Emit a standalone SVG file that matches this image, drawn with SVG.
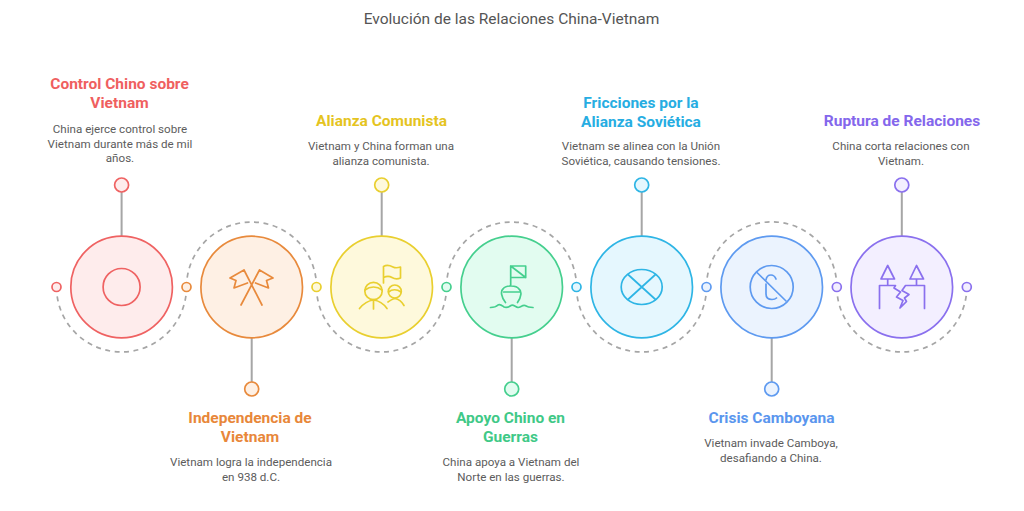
<svg xmlns="http://www.w3.org/2000/svg" width="1024" height="511" viewBox="0 0 1024 511">
<style>
text{font-family:Roboto,"Liberation Sans",sans-serif}
.t{font-size:15.500px;fill:#555;text-anchor:middle}
.h{font-size:15.500px;font-weight:700;text-anchor:middle}
.d{font-size:11.600px;fill:#5c5c5c;text-anchor:middle}
.c{fill:none;stroke:#a6a6a6;stroke-width:2}
.dash{stroke-width:1.700;stroke-dasharray:5 4.500;stroke-linecap:butt}
.i{fill:none;stroke-width:1.700;stroke-linecap:round;stroke-linejoin:round}
.b{stroke-width:1.700}
.s{stroke-width:1.700}
</style>
<rect width="1024" height="511" fill="#fff"/>
<text class="t" x="511.500" y="24">Evolución de las Relaciones China-Vietnam</text>
<g id="connectors">
<path class="c dash" d="M56.500 287A65 65 0 0 0 186.500 287"/>
<path class="c dash" d="M186.500 287A65 65 0 0 1 316.500 287"/>
<path class="c dash" d="M316.500 287A65 65 0 0 0 446.500 287"/>
<path class="c dash" d="M446.500 287A65 65 0 0 1 576.500 287"/>
<path class="c dash" d="M576.500 287A65 65 0 0 0 706.500 287"/>
<path class="c dash" d="M706.500 287A65 65 0 0 1 836.800 287"/>
<path class="c dash" d="M836.800 287A65 65 0 0 0 966.800 287"/>
<path class="c" d="M121.600 192V236M251.700 338V382M381.700 192V236M511.700 338V382M641.700 192V236M771.700 338V382M901.800 192V236"/>
</g>
<g id="n1" stroke="#ef6262" fill="#feecec">
<circle class="b" cx="121.600" cy="287" r="50.800"/><circle class="s" cx="121.600" cy="185" r="7"/><circle class="s" cx="56.500" cy="287" r="4.500"/>
<circle class="i" cx="121.600" cy="287" r="18.500"/>
<text class="h" x="119.500" y="89" fill="#ef5f5f" stroke="none">Control Chino sobre</text><text class="h" x="119.500" y="108" fill="#ef5f5f" stroke="none">Vietnam</text>
<text class="d" x="120" y="133" stroke="none">China ejerce control sobre</text><text class="d" x="120" y="148" stroke="none">Vietnam durante más de mil</text><text class="d" x="120" y="162" stroke="none">años.</text>
</g>
<g id="n2" stroke="#e88a3c" fill="#fef0e4">
<circle class="b" cx="251.700" cy="287" r="50.800"/><circle class="s" cx="251.700" cy="389" r="7"/><circle class="s" cx="186.500" cy="287" r="4.500"/>
<path class="i" d="M244 270L262 305M259.500 270L241 305M244 270L230 278L236 280.500L234 288L247.500 283M259.500 270L273 278L266.500 280.500L268.500 288L255.500 283"/>
<text class="h" x="250" y="423" fill="#e8873a" stroke="none">Independencia de</text><text class="h" x="250" y="442" fill="#e8873a" stroke="none">Vietnam</text>
<text class="d" x="251" y="466" stroke="none">Vietnam logra la independencia</text><text class="d" x="251" y="481" stroke="none">en 938 d.C.</text>
</g>
<g id="n3" stroke="#e9cf2f" fill="#fef9dc">
<circle class="b" cx="381.700" cy="287" r="50.800"/><circle class="s" cx="381.700" cy="185" r="7"/><circle class="s" cx="316.500" cy="287" r="4.500"/>
<path class="i" d="M383.500 283V266.500C387 264.500 390 265.500 393 267C395 268 397.500 268 400.500 267V278C397 279.500 394.500 279 392 277.500C389.500 276 386.500 276 383.500 277.500"/>
<circle class="i" cx="373.500" cy="291" r="8.700"/><path class="i" d="M365 290C370 286 377 286 382 290M373.500 299.700V309M359.500 308.500C364 303 369 300.500 373.500 300C378 300.500 383 303 387 308.500"/>
<circle class="i" cx="394.800" cy="291.500" r="6.500"/><path class="i" d="M388.500 292C392 289 397 289 401 292M388 302C391 300 393 298.500 395 298.500C399 299 402 302 404 305.500"/>
<text class="h" x="381.500" y="126" fill="#e5c41f" stroke="none">Alianza Comunista</text>
<text class="d" x="381" y="150" stroke="none">Vietnam y China forman una</text><text class="d" x="381" y="165" stroke="none">alianza comunista.</text>
</g>
<g id="n4" stroke="#45cf8e" fill="#e2fcf0">
<circle class="b" cx="511.700" cy="287" r="50.800"/><circle class="s" cx="511.700" cy="389" r="7"/><circle class="s" cx="446.500" cy="287" r="4.500"/>
<path class="i" d="M510.700 285V266H525.700V277.500H510.700M510.700 266L525.700 277.500M503.700 292H520M505.500 302.500C501 297 500.500 291 503 289C505.500 285 516.500 285 519 289C522 291 521.500 297 517.500 302.500M490.500 307.500C494 307.500 496 307 498 305C500 303.500 502 305.500 504 307C507 308 509 307 511 305.500C513 304 515.500 307 518 307.500C521 307 522 305 525 305.500C528 307.500 530 307.500 533 307.500"/>
<text class="h" x="510.500" y="423" fill="#3fc987" stroke="none">Apoyo Chino en</text><text class="h" x="510.500" y="442" fill="#3fc987" stroke="none">Guerras</text>
<text class="d" x="511" y="466" stroke="none">China apoya a Vietnam del</text><text class="d" x="511" y="481" stroke="none">Norte en las guerras.</text>
</g>
<g id="n5" stroke="#2eb5e5" fill="#e5f7fe">
<circle class="b" cx="641.700" cy="287" r="50.800"/><circle class="s" cx="641.700" cy="185" r="7"/><circle class="s" cx="576.500" cy="287" r="4.500"/>
<ellipse class="i" cx="641.700" cy="287" rx="20.500" ry="17.500"/><path class="i" d="M628 274.500L655.500 299.500M655.500 274.500L628 299.500"/>
<text class="h" x="641" y="108" fill="#26ade2" stroke="none">Fricciones por la</text><text class="h" x="641" y="127" fill="#26ade2" stroke="none">Alianza Soviética</text>
<text class="d" x="641" y="150" stroke="none">Vietnam se alinea con la Unión</text><text class="d" x="641" y="165" stroke="none">Soviética, causando tensiones.</text>
</g>
<g id="n6" stroke="#5e9af0" fill="#ebf3fe">
<circle class="b" cx="771.700" cy="287" r="50.800"/><circle class="s" cx="771.700" cy="389" r="7"/><circle class="s" cx="706.500" cy="287" r="4.500"/>
<circle class="i" cx="771.700" cy="287" r="21.500"/><path class="i" d="M757 272.500L786 301M766 284V294C766 298 768.500 299.500 772 299.500C774 299.500 775.500 299 776.500 298M766 280C766.500 276 768.500 275 771 275C773.500 275 775 276.500 776 279"/>
<text class="h" x="771.500" y="423" fill="#5a96ee" stroke="none">Crisis Camboyana</text>
<text class="d" x="771" y="447" stroke="none">Vietnam invade Camboya,</text><text class="d" x="771" y="462" stroke="none">desafiando a China.</text>
</g>
<g id="n7" stroke="#8a70ee" fill="#f3efff">
<circle class="b" cx="901.800" cy="287" r="50.800"/><circle class="s" cx="901.800" cy="185" r="7"/><circle class="s" cx="836.800" cy="287" r="4.500"/><circle class="s" cx="966.800" cy="287" r="4.500"/>
<path class="i" d="M887.700 265.500L881 279H894.500ZM916.500 265.500L910 279H923.500ZM887.700 279V285M916.500 279V285M879.500 308.500V285.500H895.500L894 288L900.500 292L896.500 297L903 300.500L900 308L906.500 301.500L904.500 298L909 294.500L902 290.500L905.500 285.500H924.500V308.500"/>
<text class="h" x="902" y="126" fill="#8467ec" stroke="none">Ruptura de Relaciones</text>
<text class="d" x="901" y="150" stroke="none">China corta relaciones con</text><text class="d" x="901" y="165" stroke="none">Vietnam.</text>
</g>
</svg>
